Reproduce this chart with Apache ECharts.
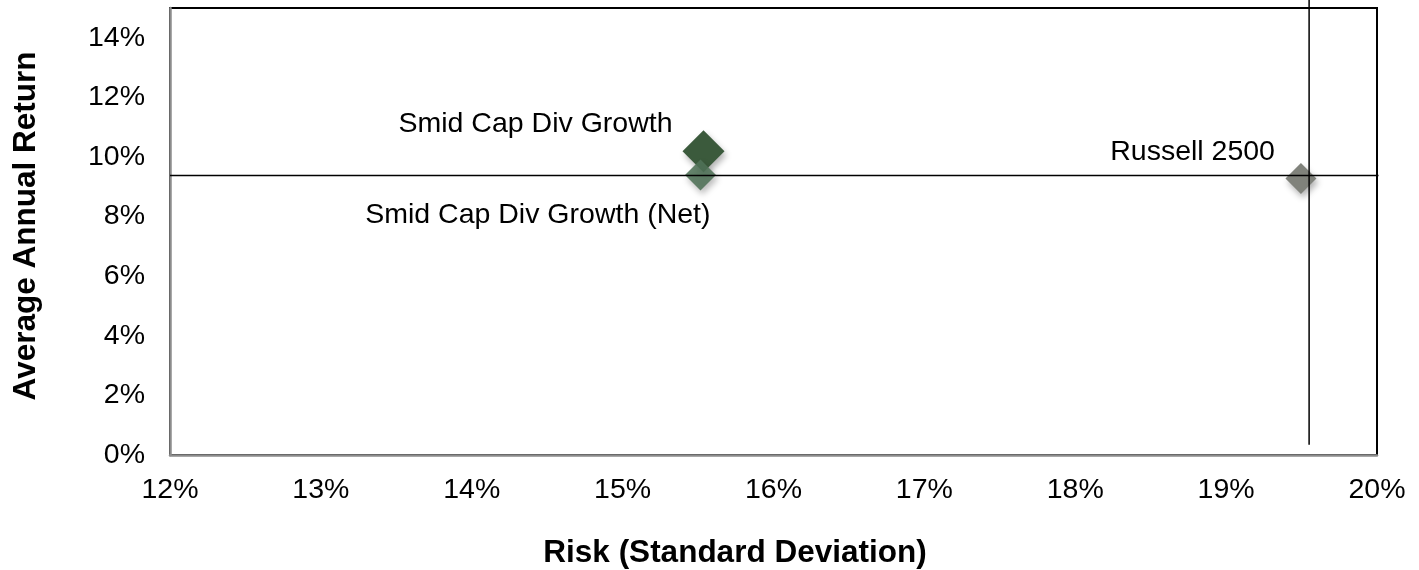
<!DOCTYPE html>
<html>
<head>
<meta charset="utf-8">
<script src="https://cdn.jsdelivr.net/npm/echarts@6/dist/echarts.min.js"></script>
<style>
html,body{margin:0;padding:0;background:#fff;}
#chart{width:1419px;height:570px;}
</style>
</head>
<body>
<div id="chart"></div>
<script>
// ---- data ----
const seriesNames = ["Smid Cap Div Growth", "Smid Cap Div Growth (Net)", "Russell 2500"];
const riskValues = [15.536, 15.516, 19.496];     // x: standard deviation (%)
const returnValues = [10.19, 9.40, 9.28];       // y: average annual return (%)
const horizontalLine = [[12, 9.38], [20.01, 9.38]];   // reference line points (risk, return)
const verticalLine = [[19.55, 0.34], [19.55, 15.3]];  // reference line points (risk, return)
const xTicks = [12, 13, 14, 15, 16, 17, 18, 19, 20];
const yTicks = [0, 2, 4, 6, 8, 10, 12, 14];

// ---- styles ----
const FONT = '"Liberation Sans", Arial, sans-serif';
const colors = ['#3b5a3c', 'rgba(80,114,88,0.88)', '#80827b'];
const sizes = [42, 31, 31];
const labelPos = [[-10, -6], [25.5, 56], [-10.5, -11]];

const chart = echarts.init(document.getElementById('chart'));

const series = seriesNames.map((name, i) => ({
  name: name,
  type: 'scatter',
  symbol: 'diamond',
  symbolSize: sizes[i],
  z: i === 1 ? 3 : 2,
  clip: false,
  data: [[riskValues[i], returnValues[i]]],
  itemStyle: {
    color: colors[i],
    opacity: 1,
    shadowBlur: 6,
    shadowOffsetX: 2,
    shadowOffsetY: 4,
    shadowColor: 'rgba(0,0,0,0.3)'
  },
  label: {
    show: true,
    formatter: name,
    position: labelPos[i],
    align: 'right',
    verticalAlign: 'middle',
    fontFamily: FONT,
    fontSize: 28.5,
    color: '#000',
    opacity: 1
  },
  emphasis: {disabled: true}
}));

[horizontalLine, verticalLine].forEach(pts => {
  series.push({
    type: 'line',
    data: pts,
    symbol: 'none',
    clip: false,
    silent: true,
    z: 5,
    lineStyle: {color: '#000', width: 1.5},
    emphasis: {disabled: true}
  });
});

chart.setOption({
  animation: false,
  grid: {
    left: 170, right: 42, top: 8, bottom: 115,
    show: true, borderColor: '#000', borderWidth: 2, backgroundColor: 'transparent'
  },
  xAxis: {
    type: 'value',
    min: xTicks[0], max: xTicks[xTicks.length - 1], interval: 1,
    axisLine: {show: true, onZero: false, lineStyle: {color: '#8c8c8c', width: 2.5}},
    axisTick: {show: false},
    splitLine: {show: false},
    axisLabel: {
      formatter: v => v + '%',
      fontFamily: FONT, fontSize: 28.5, color: '#000', margin: 21
    }
  },
  yAxis: {
    type: 'value',
    min: 0, max: 15, interval: 2,
    axisLine: {show: true, onZero: false, lineStyle: {color: '#8c8c8c', width: 2.5}},
    axisTick: {show: false},
    splitLine: {show: false},
    axisLabel: {
      formatter: v => yTicks.indexOf(v) >= 0 ? v + '%' : '',
      showMaxLabel: false,
      fontFamily: FONT, fontSize: 28.5, color: '#000', margin: 25
    }
  },
  graphic: [
    {
      type: 'text',
      x: 735, y: 553,
      style: {
        text: 'Risk (Standard Deviation)',
        font: 'bold 31.5px ' + FONT,
        fill: '#000',
        align: 'center',
        verticalAlign: 'middle'
      }
    },
    {
      type: 'text',
      x: 26, y: 226,
      rotation: Math.PI / 2,
      style: {
        text: 'Average Annual Return',
        font: 'bold 31.5px ' + FONT,
        fill: '#000',
        align: 'center',
        verticalAlign: 'middle'
      }
    }
  ],
  series: series
});
</script>
</body>
</html>
